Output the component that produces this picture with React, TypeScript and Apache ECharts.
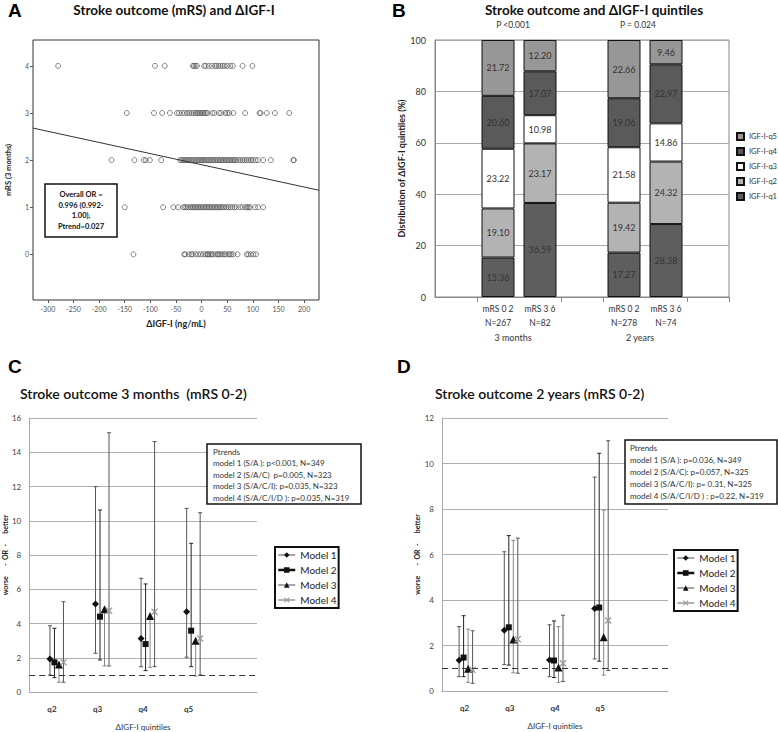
import React, { useEffect, useRef } from 'react';
import * as echarts from 'echarts';

// ---------- Panel A data ----------
const MRS_LEVELS = [0, 1, 2, 3, 4];
const MRS0_X = [-133, -34, -32, -25, -20, -18, -12, -7, -2, 3, 8, 11, 13, 16, 19, 22, 27, 31, 33, 36, 40, 44, 47, 52, 55, 58, 62, 70, 88, 91, 96, 101, 106];
const MRS1_X = [-150, -75, -55, -46, -36, -33, -30, -26, -22, -19, -16, -13, -10, -7, -4, -1, 2, 5, 8, 11, 14, 17, 20, 23, 26, 29, 32, 35, 38, 41, 44, 48, 52, 56, 60, 64, 68, 75, 80, 86, 89, 92, 95, 104, 110, 120];
const MRS2_X = [-176, -131, -113, -109, -101, -79, -42, -39, -36, -33, -30, -27, -24, -21, -18, -15, -12, -9, -6, -3, 0, 2, 5, 8, 11, 14, 17, 20, 23, 26, 29, 32, 35, 38, 41, 44, 47, 50, 53, 56, 59, 62, 65, 68, 72, 76, 80, 84, 88, 92, 96, 100, 105, 110, 120, 135, 179, 180];
const MRS3_X = [-146, -93, -77, -62, -48, -44, -38, -33, -28, -24, -20, -16, -12, -9, -6, -3, 0, 3, 6, 9, 12, 21, 25, 34, 38, 46, 50, 54, 62, 85, 113, 115, 127, 143, 171];
const MRS4_X = [-280, -91, -72, -17, -15, -12, -9, 5, 8, 14, 20, 26, 29, 33, 37, 41, 45, 50, 56, 61, 80, 99];
const MRS_ROWS = [MRS0_X, MRS1_X, MRS2_X, MRS3_X, MRS4_X];
const REG_X = [-329, 229];
const REG_Y = [2.68, 1.36];
const A_XTICKS = [-300, -250, -200, -150, -100, -50, 0, 50, 100, 150, 200];

// ---------- Panel B data ----------
const B_CATS = ['', 'mRS 0 2\nN=267', 'mRS 3 6\nN=82', '', 'mRS 0 2\nN=278', 'mRS 3 6\nN=74', ''];
const Q_NAMES = ['IGF-I-q1', 'IGF-I-q2', 'IGF-I-q3', 'IGF-I-q4', 'IGF-I-q5'];
const Q1 = [null, 15.36, 36.59, null, 17.27, 28.38, null];
const Q2 = [null, 19.10, 23.17, null, 19.42, 24.32, null];
const Q3 = [null, 23.22, 10.98, null, 21.58, 14.86, null];
const Q4 = [null, 20.60, 17.07, null, 19.06, 22.97, null];
const Q5 = [null, 21.72, 12.20, null, 22.66, 9.46, null];
const Q_VALUES = [Q1, Q2, Q3, Q4, Q5];
const B_GROUPS = ['3 months', '2 years'];
const B_PVALUES = ['P <0.001', 'P = 0.024'];

// ---------- Panels C / D data ----------
const QUINTILES = ['q2', 'q3', 'q4', 'q5', ''];
const MODELS = ['Model 1', 'Model 2', 'Model 3', 'Model 4'];
const C_EST = [
  [1.93, 5.14, 3.13, 4.69],
  [1.73, 4.40, 2.80, 3.58],
  [1.61, 4.83, 4.44, 3.00],
  [1.73, 4.75, 4.69, 3.13],
];
const C_LOW = [
  [0.99, 2.26, 1.48, 2.03],
  [0.84, 1.87, 1.25, 1.48],
  [0.57, 1.52, 1.44, 0.93],
  [0.57, 1.52, 1.48, 0.99],
];
const C_HIGH = [
  [3.87, 11.99, 6.64, 10.72],
  [3.72, 10.63, 6.31, 8.68],
  [null, null, null, null],
  [5.27, 15.14, 14.62, 10.47],
];
const D_EST = [
  [1.35, 2.67, 1.36, 3.63],
  [1.47, 2.80, 1.34, 3.67],
  [0.98, 2.26, 1.03, 2.36],
  [0.93, 2.28, 1.22, 3.10],
];
const D_LOW = [
  [0.63, 1.16, 0.63, 1.41],
  [0.63, 1.14, 0.59, 1.31],
  [0.38, 0.80, 0.38, 0.70],
  [0.34, 0.78, 0.42, 0.90],
];
const D_HIGH = [
  [2.83, 6.12, 2.91, 9.40],
  [3.31, 6.83, 3.08, 10.45],
  [2.72, 6.62, 2.83, 7.95],
  [2.65, 6.72, 3.33, 11.00],
];
const C_PTRENDS = [
  'Ptrends',
  'model 1 (S/A ): p<0.001, N=349',
  'model 2 (S/A/C)  p=0.005, N=323',
  'model 3 (S/A/C/I): p=0.035, N=323',
  'model 4 (S/A/C/I/D ): p=0.035, N=319',
];
const D_PTRENDS = [
  'Ptrends',
  'model 1 (S/A ): p=0.036, N=349',
  'model 2 (S/A/C): p=0.057, N=325',
  'model 3 (S/A/C/I): p= 0.31, N=325',
  'model 4 (S/A/C/I/D ) : p=0.22, N=319',
];
const A_BOX = ['Overall OR =', '0.996 (0.992-', '1.00),', 'Ptrend=0.027'];

// ---------- styles ----------
const FONT = 'Lato, "Open Sans", sans-serif';
const LFONT = '"Liberation Sans", Arial, sans-serif';
const X_SYMBOL = 'path://M0,1.3L1.3,0L5,3.7L8.7,0L10,1.3L6.3,5L10,8.7L8.7,10L5,6.3L1.3,10L0,8.7L3.7,5Z';
const MODEL_STYLE = [
  { symbol: 'diamond', size: 7, color: '#111', bar: '#555', line: '#888', lw: 1.5 },
  { symbol: 'rect', size: 6, color: '#111', bar: '#222', line: '#111', lw: 2.5 },
  { symbol: 'triangle', size: 8, color: '#111', bar: '#888', line: '#888', lw: 1.5 },
  { symbol: X_SYMBOL, size: 7, color: '#999', bar: '#555', line: '#999', lw: 1.5 },
];
const Q_COLORS = ['#5e5e5e', '#b3b3b3', '#ffffff', '#5a5a5a', '#979797'];

function forestSeries(idx: number, est: number[][], low: number[][], high: (number | null)[][], offsets: number[]) {
  const out: any[] = [];
  MODELS.forEach((name, m) => {
    const st = MODEL_STYLE[m];
    const dx = offsets[m];
    out.push({
      type: 'custom',
      xAxisIndex: idx,
      yAxisIndex: idx,
      silent: true,
      z: 2,
      data: est[m].map((e, i) => [i, low[m][i], high[m][i] == null ? e : high[m][i], high[m][i] == null ? 0 : 1]),
      renderItem: (params: any, api: any) => {
        const i = api.value(0);
        const lo = api.coord([i, api.value(1)]);
        const hi = api.coord([i, api.value(2)]);
        const x = lo[0] + dx;
        const style = { stroke: st.bar, lineWidth: 1 };
        const children: any[] = [
          { type: 'line', shape: { x1: x, y1: lo[1], x2: x, y2: hi[1] }, style },
          { type: 'line', shape: { x1: x - 2, y1: lo[1], x2: x + 2, y2: lo[1] }, style },
        ];
        if (api.value(3)) children.push({ type: 'line', shape: { x1: x - 2, y1: hi[1], x2: x + 2, y2: hi[1] }, style });
        return { type: 'group', children };
      },
    });
    out.push({
      type: 'line',
      name,
      xAxisIndex: idx,
      yAxisIndex: idx,
      data: est[m],
      symbol: st.symbol,
      symbolSize: st.size,
      symbolOffset: [dx, 0],
      showSymbol: true,
      itemStyle: { color: st.color },
      lineStyle: { opacity: 0, width: st.lw, color: st.line },
      z: 3,
      markLine: m === 0 ? {
        silent: true,
        symbol: 'none',
        label: { show: false },
        lineStyle: { type: [6, 4], color: '#333', width: 1 },
        data: [{ yAxis: 1 }],
      } : undefined,
    });
  });
  return out;
}

function txt(x: number, y: number, text: string, size: number, opts: any = {}) {
  return {
    type: 'text',
    x,
    y,
    z: 100,
    rotation: opts.rotation || 0,
    style: {
      text,
      fontSize: size,
      fontWeight: opts.weight || 'normal',
      fontFamily: opts.family || FONT,
      fill: opts.fill || '#222',
      textAlign: opts.align || 'left',
      textVerticalAlign: opts.valign || 'middle',
      lineHeight: opts.lineHeight,
    },
  };
}

function buildOption(): any {
  const legendModels = (left: number, top: number) => ({
    orient: 'vertical',
    left,
    top,
    data: MODELS.map((name, m) => ({
      name,
      lineStyle: { color: MODEL_STYLE[m].line, width: MODEL_STYLE[m].lw, opacity: 1 },
    })),
    borderColor: '#111',
    borderWidth: 2,
    padding: [3, 2, 3, 2],
    itemGap: 5,
    itemWidth: 17,
    itemHeight: 7,
    itemTextGap: 3,
    selectedMode: false,
    lineStyle: { opacity: 1 },
    textStyle: { fontFamily: FONT, fontSize: 10, color: '#222' },
  });

  return {
    animation: false,
    backgroundColor: '#fff',
    textStyle: { fontFamily: FONT },
    grid: [
      { left: 33, top: 40, width: 286, height: 260, show: true, borderColor: '#333', borderWidth: 1, containLabel: false },
      { left: 435, top: 40, width: 294, height: 257, show: true, borderColor: '#888', borderWidth: 1 },
      { left: 27, top: 418, width: 230, height: 274 },
      { left: 442, top: 418, width: 226, height: 273 },
    ],
    legend: [
      {
        orient: 'vertical',
        left: 736,
        top: 132,
        padding: 0,
        data: [...Q_NAMES].reverse(),
        icon: 'rect',
        itemWidth: 7,
        itemHeight: 7,
        itemGap: 6,
        itemTextGap: 3,
        selectedMode: false,
        textStyle: { fontFamily: FONT, fontSize: 7.5, color: '#333' },
      },
      legendModels(275, 547),
      legendModels(674, 550),
    ],
    xAxis: [
      {
        type: 'value', gridIndex: 0, min: -329, max: 229,
        name: 'ΔIGF-I (ng/mL)', nameLocation: 'middle', nameGap: 19,
        nameTextStyle: { fontFamily: FONT, fontSize: 9, fontWeight: 'bold', color: '#222' },
        axisLine: { show: false, onZero: false },
        axisTick: { show: true, length: 3, customValues: A_XTICKS, lineStyle: { color: '#555' } },
        axisLabel: { fontSize: 7, color: '#555', margin: 5, customValues: A_XTICKS },
        splitLine: { show: false },
      },
      {
        type: 'category', gridIndex: 1, data: B_CATS,
        axisLine: { show: true, lineStyle: { color: '#888' } },
        axisTick: { show: true, length: 5, lineStyle: { color: '#888' }, interval: (i: number) => i === 1 || i === 3 || i === 4 || i === 6 },
        axisLabel: { interval: 0, fontSize: 8.5, lineHeight: 14, color: '#333', margin: 5 },
      },
      {
        type: 'category', gridIndex: 2, data: QUINTILES,
        name: 'ΔIGF-I quintiles', nameLocation: 'middle', nameGap: 31,
        nameTextStyle: { fontFamily: FONT, fontSize: 8, color: '#333' },
        axisLine: { show: true, lineStyle: { color: '#aaa' } },
        axisTick: { show: false },
        axisLabel: { interval: 0, fontSize: 8, fontWeight: 'bold', color: '#333', margin: 13 },
      },
      {
        type: 'category', gridIndex: 3, data: QUINTILES,
        name: 'ΔIGF-I quintiles', nameLocation: 'middle', nameGap: 31,
        nameTextStyle: { fontFamily: FONT, fontSize: 8, color: '#333' },
        axisLine: { show: true, lineStyle: { color: '#aaa' } },
        axisTick: { show: false },
        axisLabel: { interval: 0, fontSize: 8, fontWeight: 'bold', color: '#333', margin: 13 },
      },
    ],
    yAxis: [
      {
        type: 'value', gridIndex: 0, min: -0.97, max: 4.55,
        name: 'mRS (3 months)', nameLocation: 'middle', nameGap: 21,
        nameTextStyle: { fontFamily: FONT, fontSize: 7.5, fontWeight: 'bold', color: '#222' },
        axisLine: { show: false, onZero: false },
        axisTick: { show: true, length: 3, customValues: MRS_LEVELS, lineStyle: { color: '#555' } },
        axisLabel: { fontSize: 7, color: '#555', margin: 4, customValues: MRS_LEVELS },
        splitLine: { show: false },
      },
      {
        type: 'value', gridIndex: 1, min: 0, max: 100, interval: 20,
        name: 'Distribution of ΔIGF-I quintiles (%)', nameLocation: 'middle', nameGap: 27,
        nameTextStyle: { fontFamily: FONT, fontSize: 9, fontWeight: 'bold', color: '#222' },
        axisLine: { show: true, lineStyle: { color: '#888' } },
        axisTick: { show: false },
        axisLabel: { fontSize: 9, color: '#333', margin: 9 },
        splitLine: { lineStyle: { color: '#aaa' } },
      },
      {
        type: 'value', gridIndex: 2, min: 0, max: 16, interval: 2,
        name: 'worse      -  OR  -      better', nameLocation: 'middle', nameGap: 15,
        nameTextStyle: { fontFamily: FONT, fontSize: 7, fontWeight: 'bold', color: '#222' },
        axisLine: { show: true, lineStyle: { color: '#aaa' } },
        axisTick: { show: false },
        axisLabel: { fontSize: 8, color: '#444', margin: 8 },
        splitLine: { lineStyle: { color: '#b0b0b0' } },
      },
      {
        type: 'value', gridIndex: 3, min: 0, max: 12, interval: 2,
        name: 'worse      -  OR  -      better', nameLocation: 'middle', nameGap: 22,
        nameTextStyle: { fontFamily: FONT, fontSize: 7, fontWeight: 'bold', color: '#222' },
        axisLine: { show: true, lineStyle: { color: '#aaa' } },
        axisTick: { show: false },
        axisLabel: { fontSize: 8, color: '#444', margin: 8 },
        splitLine: { lineStyle: { color: '#b0b0b0' } },
      },
    ],
    series: [
      {
        type: 'scatter', xAxisIndex: 0, yAxisIndex: 0,
        data: MRS_ROWS.flatMap((xs, level) => xs.map((x) => [x, MRS_LEVELS[level]])),
        symbol: 'circle', symbolSize: 5,
        itemStyle: { color: 'rgba(0,0,0,0)', borderColor: '#444', borderWidth: 0.8 },
        silent: true,
      },
      {
        type: 'line', xAxisIndex: 0, yAxisIndex: 0,
        data: REG_X.map((x, i) => [x, REG_Y[i]]),
        showSymbol: false, lineStyle: { color: '#333', width: 1 }, silent: true,
      },
      ...Q_NAMES.map((name, q) => ({
        type: 'bar', name, xAxisIndex: 1, yAxisIndex: 1, stack: 'dist',
        data: Q_VALUES[q], barWidth: 33,
        itemStyle: { color: Q_COLORS[q], borderColor: '#111', borderWidth: 1 },
        label: {
          show: true, position: 'inside', fontSize: 9, color: '#333', fontFamily: FONT,
          formatter: (p: any) => (p.value == null ? '' : Number(p.value).toFixed(2)),
        },
      })),
      ...forestSeries(2, C_EST, C_LOW, C_HIGH, [-2, 2.5, 7, 11.5]),
      ...forestSeries(3, D_EST, D_LOW, D_HIGH, [-5.5, -1, 3.5, 8]),
    ],
    graphic: [
      txt(8, 10, 'A', 19, { weight: 'bold', family: LFONT, fill: '#000' }),
      txt(392, 10, 'B', 19, { weight: 'bold', family: LFONT, fill: '#000' }),
      txt(8, 366, 'C', 19, { weight: 'bold', family: LFONT, fill: '#000' }),
      txt(397, 366, 'D', 19, { weight: 'bold', family: LFONT, fill: '#000' }),
      txt(174, 10, 'Stroke outcome (mRS) and ΔIGF-I', 13.5, { weight: 'bold', align: 'center', fill: '#111' }),
      txt(594, 10, 'Stroke outcome and ΔIGF-I quintiles', 13.5, { weight: 'bold', align: 'center', fill: '#111' }),
      txt(513, 25, B_PVALUES[0], 8.5, { align: 'center', fill: '#333' }),
      txt(638, 25, B_PVALUES[1], 8.5, { align: 'center', fill: '#333' }),
      txt(513, 337, B_GROUPS[0], 9, { align: 'center', fill: '#333' }),
      txt(640, 337, B_GROUPS[1], 9, { align: 'center', fill: '#333' }),
      txt(20, 393, 'Stroke outcome 3 months  (mRS 0-2)', 14, { weight: 600, fill: '#111' }),
      txt(435, 393, 'Stroke outcome 2 years (mRS 0-2)', 14, { weight: 600, fill: '#111' }),
      { type: 'rect', z: 99, shape: { x: 45, y: 184, width: 72, height: 53 }, style: { fill: '#fff', stroke: '#111', lineWidth: 1.5 } },
      txt(81, 210.5, A_BOX.join('\n'), 7.5, { weight: 'bold', align: 'center', lineHeight: 10.5, fill: '#111' }),
      { type: 'rect', z: 99, shape: { x: 207, y: 444, width: 154, height: 60 }, style: { fill: '#fff', stroke: '#111', lineWidth: 1.5 } },
      txt(213, 474.5, C_PTRENDS.join('\n'), 8, { lineHeight: 11.5, fill: '#333' }),
      { type: 'rect', z: 99, shape: { x: 625, y: 440, width: 152, height: 64 }, style: { fill: '#fff', stroke: '#111', lineWidth: 1.5 } },
      txt(630, 472, D_PTRENDS.join('\n'), 8, { lineHeight: 12, fill: '#333' }),
    ],
  };
}

export default function App() {
  const ref = useRef<HTMLDivElement>(null);
  useEffect(() => {
    document.body.style.margin = '0';
    const chart = echarts.init(ref.current as HTMLDivElement, null, { renderer: 'svg' });
    chart.setOption(buildOption());
    return () => chart.dispose();
  }, []);
  return <div ref={ref} style={{ width: 778, height: 732 }} />;
}
